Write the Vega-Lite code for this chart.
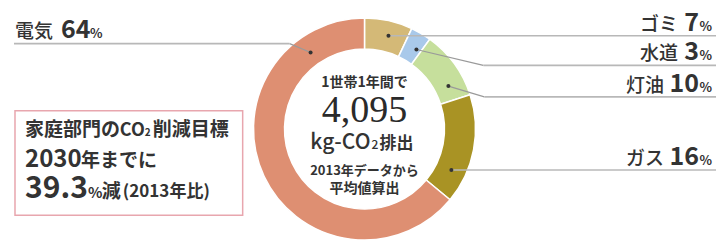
{
  "$schema": "https://vega.github.io/schema/vega-lite/v6.json",
  "width": 717,
  "height": 244,
  "autosize": {"type": "fit", "contains": "padding"},
  "padding": {"left": 13, "top": 11, "right": 0, "bottom": 0},
  "background": "white",
  "config": {"view": {"stroke": null}},
  "datasets": {
    "shares": [
      {"cat": "ゴミ", "value": 7, "ord": 1},
      {"cat": "水道", "value": 3, "ord": 2},
      {"cat": "灯油", "value": 10, "ord": 3},
      {"cat": "ガス", "value": 16, "ord": 4},
      {"cat": "電気", "value": 64, "ord": 5}
    ],
    "leaders": [
      {"cat": "ゴミ", "dx": 389, "dy": 33, "bx": 389, "by": 33, "ex": 717, "ey": 33},
      {"cat": "水道", "dx": 417, "dy": 47, "bx": 484, "by": 63, "ex": 717, "ey": 63},
      {"cat": "灯油", "dx": 449, "dy": 84, "bx": 485, "by": 95, "ex": 717, "ey": 95},
      {"cat": "ガス", "dx": 452, "dy": 169, "bx": 452, "by": 169, "ex": 717, "ey": 169},
      {"cat": "電気", "dx": 311, "dy": 50, "bx": 290, "by": 41, "ex": 14, "ey": 41}
    ],
    "rightLabels": [
      {"name": "ゴミ", "num": "7", "nameEnd": 679, "y": 28},
      {"name": "水道", "num": "3", "nameEnd": 679, "y": 58},
      {"name": "灯油", "num": "10", "nameEnd": 665, "y": 90},
      {"name": "ガス", "num": "16", "nameEnd": 665, "y": 164}
    ]
  },
  "layer": [
    {
      "data": {"values": [{"k": "box"}]},
      "mark": {"type": "rect", "fill": "white", "stroke": "#e8a6ae", "strokeWidth": 1.5},
      "encoding": {
        "x": {"datum": 15, "type": "quantitative", "scale": {"domain": [13, 717], "nice": false, "zero": false}, "axis": null},
        "x2": {"datum": 243},
        "y": {"datum": 109, "type": "quantitative", "scale": {"domain": [11, 244], "nice": false, "zero": false, "reverse": true}, "axis": null},
        "y2": {"datum": 215}
      }
    },
    {
      "data": {"name": "shares"},
      "mark": {"type": "arc", "innerRadius": 80, "outerRadius": 111, "stroke": "white", "strokeWidth": 1.5},
      "encoding": {
        "theta": {"field": "value", "type": "quantitative", "stack": true},
        "order": {"field": "ord", "type": "quantitative"},
        "color": {
          "field": "cat", "type": "nominal", "legend": null,
          "scale": {"domain": ["ゴミ", "水道", "灯油", "ガス", "電気"], "range": ["#d4b977", "#a9c9ea", "#c6df9c", "#a99324", "#de8f72"]}
        }
      }
    },
    {
      "data": {"name": "leaders"},
      "mark": {"type": "rule", "color": "#9a9a9a", "strokeWidth": 1.2},
      "encoding": {
        "x": {"field": "dx", "type": "quantitative", "scale": {"domain": [13, 717], "nice": false, "zero": false}, "axis": null},
        "y": {"field": "dy", "type": "quantitative", "scale": {"domain": [11, 244], "nice": false, "zero": false, "reverse": true}, "axis": null},
        "x2": {"field": "bx"},
        "y2": {"field": "by"}
      }
    },
    {
      "data": {"name": "leaders"},
      "mark": {"type": "rule", "color": "#b8b8b8", "strokeWidth": 1.6},
      "encoding": {
        "x": {"field": "bx", "type": "quantitative", "axis": null},
        "y": {"field": "by", "type": "quantitative", "axis": null},
        "x2": {"field": "ex"},
        "y2": {"field": "ey"}
      }
    },
    {
      "data": {"name": "leaders"},
      "mark": {"type": "circle", "size": 16, "color": "#333333", "opacity": 1},
      "encoding": {
        "x": {"field": "dx", "type": "quantitative", "axis": null},
        "y": {"field": "dy", "type": "quantitative", "axis": null}
      }
    },
    {
      "data": {"name": "rightLabels"},
      "mark": {"type": "text", "font": "Noto Sans CJK JP", "fontSize": 19, "fontWeight": 500, "align": "right", "baseline": "alphabetic", "color": "#333333"},
      "encoding": {
        "text": {"field": "name"},
        "x": {"field": "nameEnd", "type": "quantitative", "axis": null},
        "y": {"field": "y", "type": "quantitative", "axis": null}
      }
    },
    {
      "data": {"name": "rightLabels"},
      "mark": {"type": "text", "font": "Noto Sans CJK JP", "fontSize": 25, "fontWeight": "bold", "align": "right", "baseline": "alphabetic", "color": "#333333"},
      "encoding": {
        "text": {"field": "num"},
        "x": {"datum": 700, "type": "quantitative", "axis": null},
        "y": {"field": "y", "type": "quantitative", "axis": null}
      }
    },
    {
      "data": {"name": "rightLabels"},
      "mark": {"type": "text", "font": "Noto Sans CJK JP", "fontSize": 13, "fontWeight": "bold", "align": "right", "baseline": "alphabetic", "color": "#333333"},
      "encoding": {
        "text": {"value": "%"},
        "x": {"datum": 713, "type": "quantitative", "axis": null},
        "y": {"field": "y", "type": "quantitative", "axis": null}
      }
    },
    {
      "data": {"values": [{"t": "電気"}]},
      "mark": {"type": "text", "font": "Noto Sans CJK JP", "fontSize": 19, "fontWeight": 500, "align": "left", "baseline": "alphabetic", "color": "#333333"},
      "encoding": {"text": {"field": "t"}, "x": {"datum": 15, "type": "quantitative", "axis": null}, "y": {"datum": 35, "type": "quantitative", "axis": null}}
    },
    {
      "data": {"values": [{"t": "64"}]},
      "mark": {"type": "text", "font": "Noto Sans CJK JP", "fontSize": 25, "fontWeight": "bold", "align": "left", "baseline": "alphabetic", "color": "#333333"},
      "encoding": {"text": {"field": "t"}, "x": {"datum": 61, "type": "quantitative", "axis": null}, "y": {"datum": 35, "type": "quantitative", "axis": null}}
    },
    {
      "data": {"values": [{"t": "%"}]},
      "mark": {"type": "text", "font": "Noto Sans CJK JP", "fontSize": 13, "fontWeight": "bold", "align": "left", "baseline": "alphabetic", "color": "#333333"},
      "encoding": {"text": {"field": "t"}, "x": {"datum": 90, "type": "quantitative", "axis": null}, "y": {"datum": 35, "type": "quantitative", "axis": null}}
    },
    {
      "data": {"values": [{"t": "1世帯1年間で"}]},
      "mark": {"type": "text", "font": "Noto Sans CJK JP", "fontSize": 14, "fontWeight": "bold", "align": "center", "baseline": "alphabetic", "color": "#333333"},
      "encoding": {"text": {"field": "t"}, "x": {"datum": 365, "type": "quantitative", "axis": null}, "y": {"datum": 85, "type": "quantitative", "axis": null}}
    },
    {
      "data": {"values": [{"t": "4,095"}]},
      "mark": {"type": "text", "font": "Liberation Serif", "fontSize": 38, "align": "center", "baseline": "alphabetic", "color": "#2a2a2a"},
      "encoding": {"text": {"field": "t"}, "x": {"datum": 365, "type": "quantitative", "axis": null}, "y": {"datum": 120, "type": "quantitative", "axis": null}}
    },
    {
      "data": {"values": [{"t": "kg-CO"}]},
      "mark": {"type": "text", "font": "Noto Sans CJK JP", "fontSize": 21, "fontWeight": 500, "align": "right", "baseline": "alphabetic", "color": "#333333"},
      "encoding": {"text": {"field": "t"}, "x": {"datum": 371, "type": "quantitative", "axis": null}, "y": {"datum": 148, "type": "quantitative", "axis": null}}
    },
    {
      "data": {"values": [{"t": "2"}]},
      "mark": {"type": "text", "font": "Noto Sans CJK JP", "fontSize": 12, "fontWeight": 500, "align": "left", "baseline": "alphabetic", "color": "#333333"},
      "encoding": {"text": {"field": "t"}, "x": {"datum": 372, "type": "quantitative", "axis": null}, "y": {"datum": 148, "type": "quantitative", "axis": null}}
    },
    {
      "data": {"values": [{"t": "排出"}]},
      "mark": {"type": "text", "font": "Noto Sans CJK JP", "fontSize": 17, "fontWeight": "bold", "align": "left", "baseline": "alphabetic", "color": "#333333"},
      "encoding": {"text": {"field": "t"}, "x": {"datum": 380, "type": "quantitative", "axis": null}, "y": {"datum": 148, "type": "quantitative", "axis": null}}
    },
    {
      "data": {"values": [{"t": "2013年データから"}]},
      "mark": {"type": "text", "font": "Noto Sans CJK JP", "fontSize": 13, "fontWeight": "bold", "align": "center", "baseline": "alphabetic", "color": "#333333"},
      "encoding": {"text": {"field": "t"}, "x": {"datum": 365, "type": "quantitative", "axis": null}, "y": {"datum": 174, "type": "quantitative", "axis": null}}
    },
    {
      "data": {"values": [{"t": "平均値算出"}]},
      "mark": {"type": "text", "font": "Noto Sans CJK JP", "fontSize": 14, "fontWeight": "bold", "align": "center", "baseline": "alphabetic", "color": "#333333"},
      "encoding": {"text": {"field": "t"}, "x": {"datum": 365, "type": "quantitative", "axis": null}, "y": {"datum": 192, "type": "quantitative", "axis": null}}
    },
    {
      "data": {"values": [{"t": "家庭部門の"}]},
      "mark": {"type": "text", "font": "Noto Sans CJK JP", "fontSize": 19, "fontWeight": "bold", "align": "left", "baseline": "alphabetic", "color": "#333333"},
      "encoding": {"text": {"field": "t"}, "x": {"datum": 25, "type": "quantitative", "axis": null}, "y": {"datum": 135, "type": "quantitative", "axis": null}}
    },
    {
      "data": {"values": [{"t": "CO"}]},
      "mark": {"type": "text", "font": "Noto Sans CJK JP", "fontSize": 18, "fontWeight": "bold", "align": "left", "baseline": "alphabetic", "color": "#333333"},
      "encoding": {"text": {"field": "t"}, "x": {"datum": 120, "type": "quantitative", "axis": null}, "y": {"datum": 135, "type": "quantitative", "axis": null}}
    },
    {
      "data": {"values": [{"t": "2"}]},
      "mark": {"type": "text", "font": "Noto Sans CJK JP", "fontSize": 10, "fontWeight": "bold", "align": "left", "baseline": "alphabetic", "color": "#333333"},
      "encoding": {"text": {"field": "t"}, "x": {"datum": 145, "type": "quantitative", "axis": null}, "y": {"datum": 135, "type": "quantitative", "axis": null}}
    },
    {
      "data": {"values": [{"t": "削減目標"}]},
      "mark": {"type": "text", "font": "Noto Sans CJK JP", "fontSize": 19, "fontWeight": "bold", "align": "left", "baseline": "alphabetic", "color": "#333333"},
      "encoding": {"text": {"field": "t"}, "x": {"datum": 153, "type": "quantitative", "axis": null}, "y": {"datum": 135, "type": "quantitative", "axis": null}}
    },
    {
      "data": {"values": [{"t": "2030"}]},
      "mark": {"type": "text", "font": "Noto Sans CJK JP", "fontSize": 24, "fontWeight": "bold", "align": "left", "baseline": "alphabetic", "color": "#333333"},
      "encoding": {"text": {"field": "t"}, "x": {"datum": 25, "type": "quantitative", "axis": null}, "y": {"datum": 166, "type": "quantitative", "axis": null}}
    },
    {
      "data": {"values": [{"t": "年までに"}]},
      "mark": {"type": "text", "font": "Noto Sans CJK JP", "fontSize": 19, "fontWeight": "bold", "align": "left", "baseline": "alphabetic", "color": "#333333"},
      "encoding": {"text": {"field": "t"}, "x": {"datum": 81, "type": "quantitative", "axis": null}, "y": {"datum": 166, "type": "quantitative", "axis": null}}
    },
    {
      "data": {"values": [{"t": "39.3"}]},
      "mark": {"type": "text", "font": "Noto Sans CJK JP", "fontSize": 30, "fontWeight": "bold", "align": "left", "baseline": "alphabetic", "color": "#333333"},
      "encoding": {"text": {"field": "t"}, "x": {"datum": 25, "type": "quantitative", "axis": null}, "y": {"datum": 197, "type": "quantitative", "axis": null}}
    },
    {
      "data": {"values": [{"t": "%"}]},
      "mark": {"type": "text", "font": "Noto Sans CJK JP", "fontSize": 15, "fontWeight": "bold", "align": "left", "baseline": "alphabetic", "color": "#333333"},
      "encoding": {"text": {"field": "t"}, "x": {"datum": 88, "type": "quantitative", "axis": null}, "y": {"datum": 197, "type": "quantitative", "axis": null}}
    },
    {
      "data": {"values": [{"t": "減"}]},
      "mark": {"type": "text", "font": "Noto Sans CJK JP", "fontSize": 19, "fontWeight": "bold", "align": "left", "baseline": "alphabetic", "color": "#333333"},
      "encoding": {"text": {"field": "t"}, "x": {"datum": 102, "type": "quantitative", "axis": null}, "y": {"datum": 197, "type": "quantitative", "axis": null}}
    },
    {
      "data": {"values": [{"t": "(2013年比)"}]},
      "mark": {"type": "text", "font": "Noto Sans CJK JP", "fontSize": 17, "fontWeight": "bold", "align": "left", "baseline": "alphabetic", "color": "#333333"},
      "encoding": {"text": {"field": "t"}, "x": {"datum": 123, "type": "quantitative", "axis": null}, "y": {"datum": 196, "type": "quantitative", "axis": null}}
    }
  ]
}
